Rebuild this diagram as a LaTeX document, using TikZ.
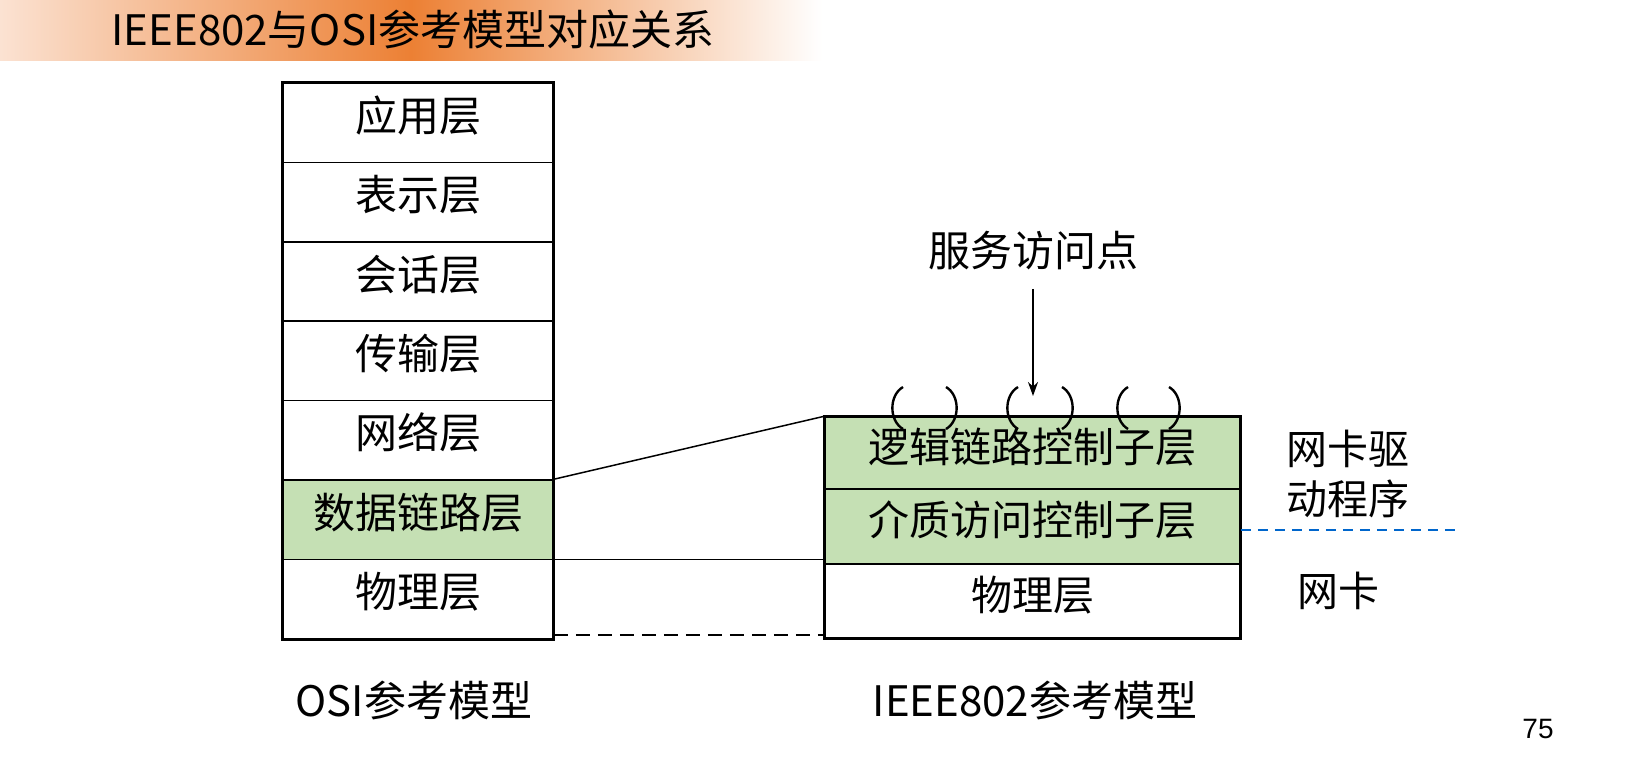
\documentclass[tikz,border=0pt]{standalone}
\usepackage{fontspec}
\setmainfont{Noto Sans CJK SC}
\newfontfamily\numfont{Liberation Sans}
\usetikzlibrary{arrows.meta}
\definecolor{layergreen}{RGB}{197,224,180}
\definecolor{titleorange}{RGB}{236,128,52}
\definecolor{titlepale}{RGB}{251,226,210}
\definecolor{nicblue}{RGB}{0,102,204}
\tikzset{
  osirow/.style={draw=black, line width=0.75pt, minimum width=135pt, minimum height=39.7pt, inner sep=0pt, text height=8.6pt, text depth=0pt, font=\fontsize{21pt}{25pt}\selectfont},
  ieeerow/.style={draw=black, line width=0.75pt, minimum width=207.5pt, inner sep=0pt, text height=9.2pt, text depth=0pt, font=\fontsize{20.5pt}{24pt}\selectfont},
  greenrow/.style={fill=layergreen},
  outerbox/.style={draw=black, line width=1.5pt},
  label/.style={inner sep=0pt, font=\fontsize{21pt}{25pt}\selectfont, align=center},
  conn/.style={draw=black, line width=0.75pt},
  paren/.style={draw=black, line width=1.2pt},
}
\begin{document}
\begin{tikzpicture}[x=0.5pt,y=-0.5pt]
\useasboundingbox[fill=white] (0,0) rectangle (1632,767);
% title bar
\shade[left color=titlepale, right color=white, middle color=titleorange] (0,0) rectangle (822,60);
\node[label, font=\fontsize{21pt}{25pt}\selectfont] (title) at (413,30) {IEEE802与OSI参考模型对应关系};
% OSI stack
\node[osirow] (L1) at (418,122.7) {应用层};
\node[osirow] (L2) at (418,202.1) {表示层};
\node[osirow] (L3) at (418,281.5) {会话层};
\node[osirow] (L4) at (418,360.9) {传输层};
\node[osirow] (L5) at (418,440.3) {网络层};
\node[osirow, greenrow] (L6) at (418,519.7) {数据链路层};
\node[osirow] (L7) at (418,599.1) {物理层};
\draw[outerbox] (L1.north west) rectangle (L7.south east);
% IEEE 802 stack
\node[ieeerow, greenrow, minimum height=36pt] (R1) at (1032.5,453) {逻辑链路控制子层};
\node[ieeerow, greenrow, minimum height=37.5pt] (R2) at (1032.5,526.5) {介质访问控制子层};
\node[ieeerow, minimum height=37pt] (R3) at (1032.5,601) {物理层};
\draw[outerbox] (R1.north west) rectangle (R3.south east);
% connectors between stacks
\draw[conn] (L6.north east) -- (R1.north west);
\draw[conn] ([yshift=-0.5pt]L7.north east) -- ([yshift=-0.5pt]L7.north east -| R3.west);
\draw[conn, line width=1pt, dash pattern=on 7pt off 4pt] ([yshift=2.5pt]L7.south east) -- ([yshift=2.5pt]L7.south east -| R3.west);
% service access points
\draw[paren] (903,387) to[bend right=60] (903,429);
\draw[paren] (946,387) to[bend left=60] (946,429);
\draw[paren] (1018,387) to[bend right=60] (1018,429);
\draw[paren] (1062,387) to[bend left=60] (1062,429);
\draw[paren] (1128,387) to[bend right=60] (1128,429);
\draw[paren] (1169,387) to[bend left=60] (1169,429);
\node[label] (sap) at (1033,251) {服务访问点};
\coordinate (saptip) at (1033,396);
\draw[conn, -{Stealth[length=7pt,width=5pt]}] ([yshift=-9pt]sap.south) -- (saptip);
% right side labels
\node[label, font=\fontsize{20.5pt}{25pt}\selectfont] (drv) at (1348,474) {网卡驱\\动程序};
\node[label, font=\fontsize{20.5pt}{25pt}\selectfont] (nic) at (1338,591) {网卡};
\coordinate (blueend) at (1455,530);
\draw[nicblue, line width=1pt, dash pattern=on 5pt off 3.5pt] (R2.east |- blueend) -- (blueend);
% captions
\node[label] (osicap) at (414,700) {OSI参考模型};
\node[label] (ieeecap) at (1035,700) {IEEE802参考模型};
\node[inner sep=0pt, font=\numfont\fontsize{14pt}{16pt}\selectfont] (pagenum) at (1538,729) {75};
\end{tikzpicture}
\end{document}
